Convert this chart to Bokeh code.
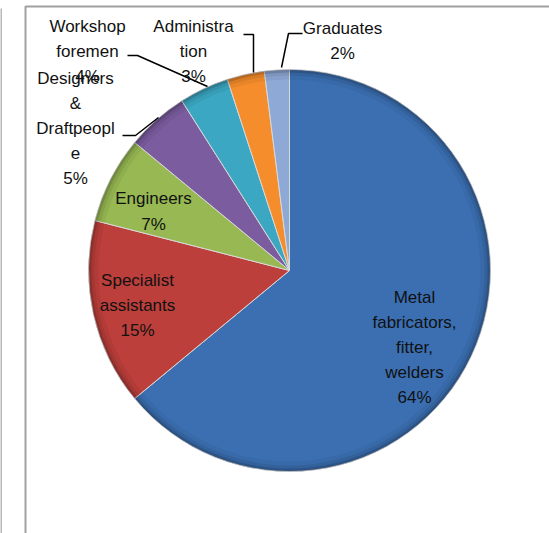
import math
from bokeh.plotting import figure
from bokeh.models import Range1d, ColumnDataSource
from bokeh.core.properties import value
from bokeh.embed import file_html
from bokeh.resources import INLINE

# ---- data ----
categories = ["Metal fabricators, fitter, welders", "Specialist assistants", "Engineers",
              "Designers & Draftpeople", "Workshop foremen", "Administration", "Graduates"]
shares = [64, 15, 7, 5, 4, 3, 2]
label_names = ["Metal\nfabricators,\nfitter,\nwelders", "Specialist\nassistants", "Engineers",
               "Designers\n&\nDraftpeopl\ne", "Workshop\nforemen", "Administra\ntion", "Graduates"]
colors = ["#3b6fb1", "#bc3f3b", "#97b853", "#7b5c9f", "#3ba7c2", "#f58d2c", "#8fa9d6"]

# ---- layout (page pixel coordinates; data y = -pixel y) ----
W, H = 549, 533
cx, cy, R = 289, 270, 201
label_pos = [(414, 347), (137, 305), (153, 211), (75, 128), (87, 51), (193, 51), (342, 40.5)]
leaders = [None, None, None,
           [(122, 135), (135, 135), (158, 117)],
           [(127, 55), (137, 55), (207, 86)],
           [(243, 34), (253, 34), (253, 72)],
           [(302, 33), (288, 33), (281, 67)]]

total = float(sum(shares))
starts, ends = [], []
acc = 0.0
for s in shares:
    starts.append(math.pi / 2 - 2 * math.pi * acc / total)
    acc += s
    ends.append(math.pi / 2 - 2 * math.pi * acc / total)

src = ColumnDataSource(dict(cat=categories, start=starts, end=ends, color=colors,
                            x=[cx] * len(shares), y=[-cy] * len(shares)))

p = figure(width=W, height=H, output_backend="svg", toolbar_location=None,
           x_range=Range1d(0, W), y_range=Range1d(-H, 0), min_border=0)
p.axis.visible = False
p.grid.visible = False
p.outline_line_color = None
p.background_fill_color = "white"
p.border_fill_color = "white"

# frames
p.line([25, 25, W], [-H, -6, -6], line_color="#a0a0a0", line_width=2)
p.line([0.5, 0.5], [-H, -8], line_color="#a0a0a0", line_width=1.5)

# slices
p.wedge(x="x", y="y", radius=R, start_angle="start", end_angle="end", direction="clock",
        fill_color="color", line_color="#d8d8d8", line_width=1, source=src)
# bevel shading near the rim
for r_in, r_out, a in [(R - 10, R - 6, 0.05), (R - 6, R - 3, 0.12), (R - 3, R, 0.25)]:
    p.annular_wedge(x="x", y="y", inner_radius=r_in, outer_radius=r_out, start_angle="start",
                    end_angle="end", direction="clock", fill_color="black", fill_alpha=a,
                    line_color=None, source=src)

# leader lines
for pts in leaders:
    if pts:
        p.line([q[0] for q in pts], [-q[1] for q in pts], line_color="black", line_width=1.5)

# labels
texts = [f"{n}\n{round(100 * s / total)}%" for n, s in zip(label_names, shares)]
p.text(x=[q[0] for q in label_pos], y=[-q[1] for q in label_pos], text=texts,
       text_align="center", text_baseline="middle", text_font=value("Liberation Sans"),
       text_font_size="17px", text_line_height=1.32, text_color="#111111")

open("out.html", "w").write(file_html(p, INLINE))
